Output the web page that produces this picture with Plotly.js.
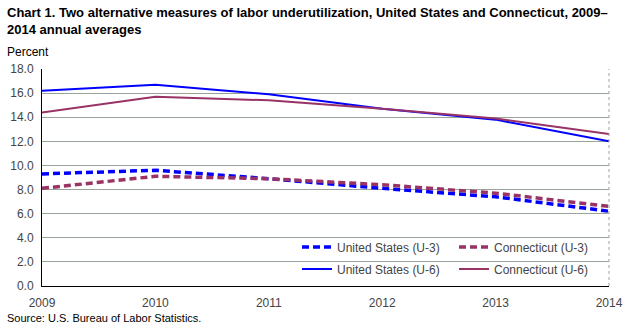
<!DOCTYPE html>
<html><head><meta charset="utf-8">
<script src="https://cdn.plot.ly/plotly-3.0.1.min.js"></script>
<style>html,body{margin:0;padding:0;background:#fff}#chart{width:627px;height:330px}</style>
</head><body><div id="chart"></div>
<script>
const years = [2009, 2010, 2011, 2012, 2013, 2014];
const usU3 = [9.3, 9.6, 8.9, 8.1, 7.4, 6.2];
const ctU3 = [8.1, 9.1, 8.9, 8.4, 7.7, 6.6];
const usU6 = [16.2, 16.7, 15.9, 14.7, 13.8, 12.0];
const ctU6 = [14.4, 15.7, 15.4, 14.7, 13.9, 12.6];
const yTicks = [0, 2, 4, 6, 8, 10, 12, 14, 16, 18];

const blue = '#0000FF', maroon = '#993366';
const traces = [
  {x: years, y: usU3, name: 'United States (U-3)', legend: 'legend', mode: 'lines', line: {color: blue, width: 3.5, dash: '7px,4px'}},
  {x: years, y: ctU3, name: 'Connecticut (U-3)', legend: 'legend', mode: 'lines', line: {color: maroon, width: 3.5, dash: '7px,4px'}},
  {x: years, y: usU6, name: 'United States (U-6)', legend: 'legend2', mode: 'lines', line: {color: blue, width: 2}},
  {x: years, y: ctU6, name: 'Connecticut (U-6)', legend: 'legend2', mode: 'lines', line: {color: maroon, width: 2}}
];
const M = {l: 42, r: 18, t: 69, b: 44};
const W = 627, H = 330, PW = W - M.l - M.r, PH = H - M.t - M.b;
const px = v => (v - M.l) / PW;
const py = v => (H - M.b - v) / PH;
const legBase = {orientation: 'h', xanchor: 'left', yanchor: 'middle', bgcolor: 'rgba(0,0,0,0)',
  entrywidth: 112, entrywidthmode: 'pixels', traceorder: 'normal', font: {size: 12, color: '#444'}};
const layout = {
  width: W, height: H,
  margin: M,
  paper_bgcolor: '#fff', plot_bgcolor: '#fff',
  font: {family: 'Liberation Sans, Arial, sans-serif', size: 12, color: '#444'},
  showlegend: true,
  xaxis: {range: [2009, 2014], tickvals: years, ticktext: years.map(String), showgrid: false, zeroline: false,
    showline: true, linecolor: '#000', linewidth: 1, ticks: '', ticklabelstandoff: 6, tickfont: {size: 12, color: '#444'}},
  yaxis: {range: [0, 18], tickvals: yTicks, ticktext: yTicks.map(v => v.toFixed(1)), showgrid: true,
    gridcolor: '#9aa39a', gridwidth: 1, zeroline: false, showline: true, linecolor: '#000', linewidth: 1,
    ticks: '', ticklabelstandoff: 5, tickfont: {size: 12, color: '#444'}},
  legend: Object.assign({}, legBase, {x: px(297), y: py(247)}),
  legend2: Object.assign({}, legBase, {x: px(297), y: py(269)}),
  shapes: [{type: 'line', xref: 'paper', yref: 'paper', x0: 1, x1: 1, y0: 0, y1: 1, line: {color: '#9aa39a', width: 1, dash: 'dot'}}],
  annotations: [
    {text: '<b>Chart 1. Two alternative measures of labor underutilization, United States and Connecticut, 2009–<br>2014 annual averages</b>',
      xref: 'paper', yref: 'paper', x: px(5), xanchor: 'left', align: 'left', y: py(3), yanchor: 'top', showarrow: false,
      font: {size: 13, color: '#000'}},
    {text: 'Percent', xref: 'paper', yref: 'paper', x: px(5), xanchor: 'left', y: py(52), yanchor: 'middle', showarrow: false, font: {size: 12, color: '#000'}},
    {text: 'Source: U.S. Bureau of Labor Statistics.', xref: 'paper', yref: 'paper', x: px(5), xanchor: 'left', y: py(318), yanchor: 'middle', showarrow: false, font: {size: 11, color: '#000'}}
  ]
};
Plotly.newPlot('chart', traces, layout, {displayModeBar: false, staticPlot: true});
</script></body></html>
